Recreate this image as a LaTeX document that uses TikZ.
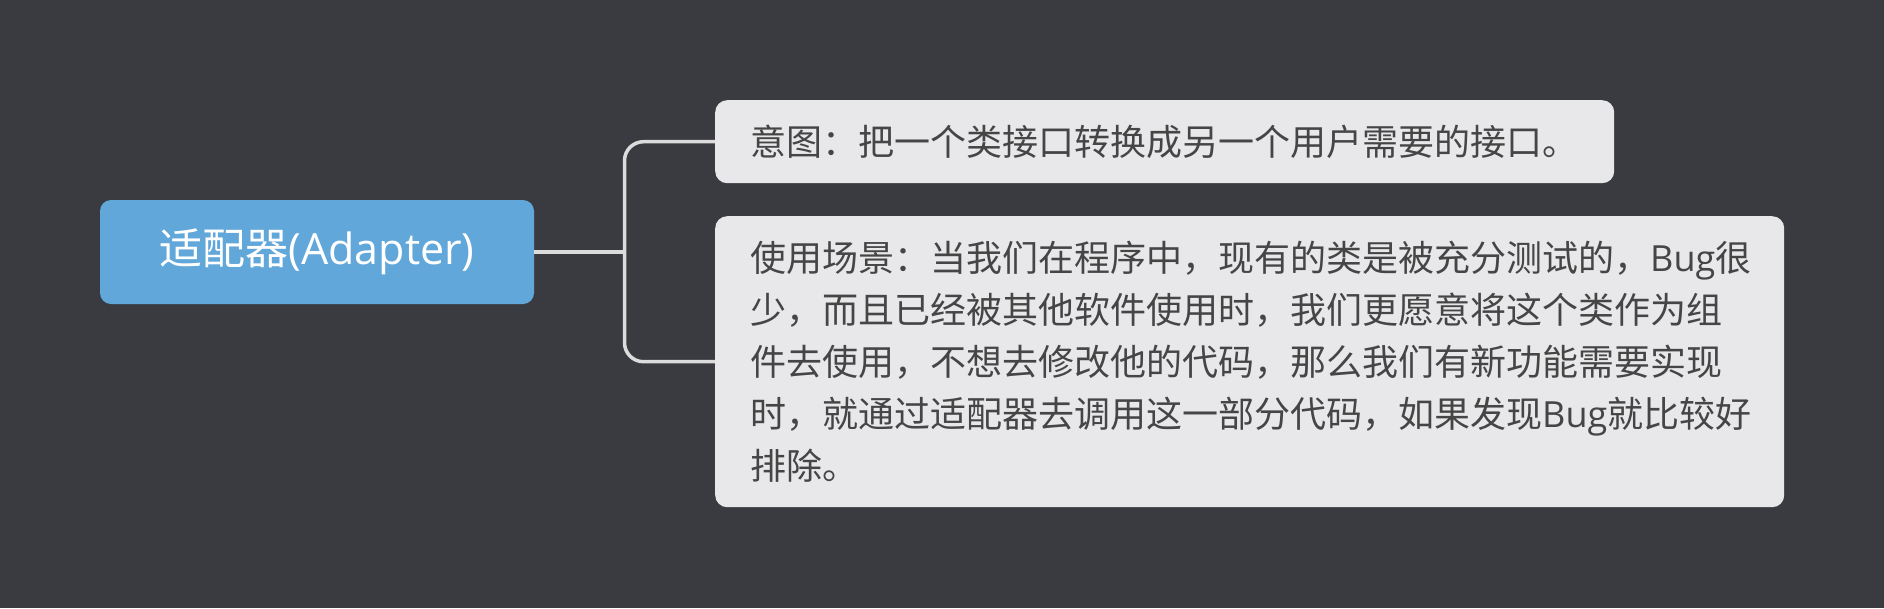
\documentclass[tikz,border=0pt]{standalone}
\usepackage{fontspec}
\newfontfamily\cjk{Noto Sans CJK SC}
\newfontfamily\lat{Open Sans}
\definecolor{bgc}{HTML}{3A3B40}
\definecolor{rootblue}{HTML}{62A7DA}
\definecolor{boxgray}{HTML}{E8E8EA}
\definecolor{txtgray}{HTML}{454545}
\definecolor{linegray}{HTML}{DCDCDC}
\tikzset{
  rootbox/.style={fill=rootblue, rounded corners=11pt, minimum width=434pt, minimum height=104pt,
    inner sep=0pt, text=white, font=\cjk\fontsize{43pt}{50pt}\selectfont},
  leafbox/.style={fill=boxgray, rounded corners=12pt, anchor=north west, inner xsep=35pt, inner ysep=0pt,
    align=left, text=txtgray, font=\cjk\fontsize{36pt}{52pt}\selectfont},
  conn/.style={draw=linegray, line width=3.5pt, rounded corners=19pt},
}
\begin{document}
\begin{tikzpicture}[x=1pt,y=-1pt]
\fill[bgc] (0,0) rectangle (1884,608);
\useasboundingbox (0,0) rectangle (1884,608);
\node[rootbox] (root) at (317,252) {适配器{\lat (Adapter)}};
\node[leafbox, minimum width=899pt, minimum height=83pt, text width=829pt] (intent) at (715,100)
  {意图：把一个类接口转换成另一个用户需要的接口。};
\node[leafbox, minimum width=1069pt, minimum height=291pt, text width=999pt] (usage) at (715,216)
  {使用场景：当我们在程序中，现有的类是被充分测试的，{\lat Bug}很\\
   少，而且已经被其他软件使用时，我们更愿意将这个类作为组\\
   件去使用，不想去修改他的代码，那么我们有新功能需要实现\\
   时，就通过适配器去调用这一部分代码，如果发现{\lat Bug}就比较好\\
   排除。};
\coordinate (junc) at (624.5,252);
\draw[conn] (root.east) -- (junc);
\draw[conn] (junc) |- (intent.west);
\draw[conn] (junc) |- (usage.west);
\end{tikzpicture}
\end{document}
